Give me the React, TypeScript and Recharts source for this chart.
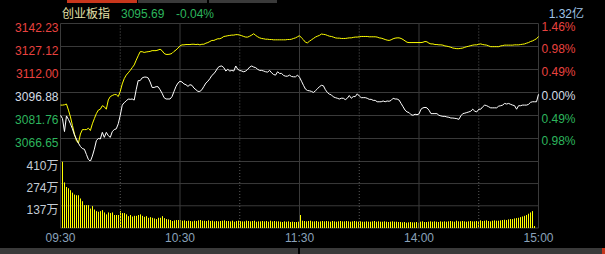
import { LineChart, ComposedChart, Line, Bar, XAxis, YAxis, CartesianGrid, ReferenceLine } from "recharts";

// 昨收
const PRE_CLOSE = 3096.88;

const priceTicks = [3142.23, 3127.12, 3112.0, 3096.88, 3081.76, 3066.65, 3051.53];
const volTicks = [137, 274, 410];
const timeTicks = [0, 60, 120, 180, 240];
const timeLabels = ["09:30", "10:30", "11:30", "14:00", "15:00"];
const halfHours = [30, 90, 150, 210];

// 指数 (white), one value per minute from 09:30
const indexPrice = [
  3081.9, 3079.7, 3071.2, 3081.5, 3079.2, 3076.3, 3073.0, 3069.0, 3066.3, 3063.6,
  3061.4, 3060.0, 3059.6, 3056.2, 3052.9, 3051.7, 3055.1, 3059.6, 3065.2, 3066.7,
  3066.3, 3070.7, 3067.4, 3070.7, 3068.5, 3067.4, 3071.2, 3072.5, 3073.0, 3076.3,
  3081.9, 3088.6, 3090.2, 3091.3, 3092.6, 3092.4, 3092.6, 3091.9, 3098.7, 3104.7,
  3104.7, 3106.5, 3107.0, 3107.0, 3106.5, 3103.8, 3100.2, 3100.2, 3100.7, 3100.7,
  3098.7, 3096.4, 3093.5, 3092.6, 3092.6, 3092.6, 3094.2, 3097.6, 3100.9, 3103.1,
  3104.3, 3103.8, 3102.5, 3102.0, 3100.9, 3102.0, 3101.6, 3099.8, 3098.7, 3097.6,
  3097.6, 3098.7, 3100.9, 3103.1, 3104.3, 3106.0, 3108.1, 3109.2, 3111.0, 3113.2,
  3114.1, 3114.3, 3113.2, 3111.0, 3112.1, 3111.0, 3111.4, 3111.0, 3114.3, 3112.1,
  3111.4, 3111.0, 3110.5, 3111.0, 3112.1, 3113.6, 3114.3, 3113.6, 3113.2, 3112.1,
  3111.4, 3111.4, 3111.0, 3110.5, 3110.3, 3111.4, 3109.8, 3108.7, 3108.3, 3110.5,
  3109.4, 3109.4, 3108.1, 3107.6, 3107.6, 3108.3, 3107.4, 3107.2, 3107.2, 3108.3,
  3106.9, 3104.3, 3101.6, 3099.1, 3098.2, 3098.0, 3097.6, 3096.9, 3098.0, 3099.3,
  3100.7, 3101.6, 3101.3, 3098.7, 3096.9, 3095.8, 3095.3, 3094.0, 3093.5, 3093.1,
  3092.6, 3093.1, 3093.1, 3092.2, 3093.1, 3094.9, 3093.1, 3094.2, 3094.2, 3096.0,
  3094.6, 3093.5, 3093.5, 3093.5, 3093.1, 3092.4, 3092.4, 3091.7, 3091.7, 3090.8,
  3090.8, 3090.8, 3091.3, 3090.8, 3091.3, 3091.1, 3091.7, 3093.1, 3092.6, 3092.6,
  3091.9, 3089.7, 3087.5, 3085.3, 3084.1, 3083.7, 3082.3, 3081.9, 3082.6, 3082.3,
  3082.8, 3085.9, 3086.8, 3087.1, 3086.8, 3085.3, 3083.0, 3083.0, 3083.0, 3083.0,
  3081.9, 3081.5, 3081.2, 3081.2, 3080.8, 3080.6, 3080.1, 3080.1, 3079.9, 3079.7,
  3079.2, 3081.5, 3083.0, 3083.3, 3083.7, 3084.1, 3084.6, 3085.9, 3084.6, 3084.1,
  3085.9, 3085.9, 3087.5, 3088.6, 3088.2, 3087.5, 3086.8, 3086.8, 3086.8, 3086.8,
  3087.9, 3088.2, 3088.6, 3089.7, 3089.3, 3089.7, 3089.1, 3088.6, 3088.2, 3085.9,
  3088.2, 3088.2, 3088.6, 3088.6, 3088.6, 3089.1, 3090.4, 3090.8, 3090.8, 3090.8,
  3095.69,
];

// 不含加权 (yellow)
const equalPrice = [
  3088.6, 3088.6, 3088.8, 3089.3, 3085.3, 3080.8, 3075.2, 3069.6, 3065.2, 3063.6,
  3069.6, 3072.5, 3072.5, 3072.5, 3073.4, 3071.9, 3076.3, 3079.7, 3083.0, 3085.3,
  3085.9, 3088.2, 3087.5, 3085.9, 3092.0, 3094.2, 3094.9, 3095.5, 3095.5, 3094.2,
  3097.6, 3102.5, 3106.0, 3108.3, 3109.8, 3111.4, 3113.2, 3115.0, 3118.1, 3121.0,
  3123.7, 3123.7, 3123.2, 3123.5, 3123.7, 3123.9, 3124.4, 3124.4, 3124.4, 3124.8,
  3125.3, 3124.4, 3122.6, 3121.9, 3121.9, 3122.1, 3122.6, 3123.9, 3124.8, 3126.1,
  3127.5, 3128.2, 3128.2, 3128.4, 3128.4, 3128.4, 3128.6, 3128.6, 3128.4, 3128.6,
  3128.2, 3128.6, 3128.6, 3129.3, 3129.7, 3130.4, 3131.1, 3131.1, 3131.7, 3132.2,
  3132.2, 3132.8, 3133.7, 3133.9, 3134.2, 3134.4, 3134.6, 3134.6, 3134.9, 3134.9,
  3134.6, 3134.2, 3133.7, 3133.3, 3133.3, 3133.9, 3134.6, 3135.5, 3134.4, 3133.5,
  3132.8, 3132.4, 3132.2, 3131.9, 3131.9, 3131.7, 3131.7, 3131.5, 3131.5, 3131.5,
  3131.5, 3131.5, 3131.5, 3131.5, 3131.7, 3131.7, 3131.9, 3132.4, 3132.8, 3133.5,
  3134.2, 3132.8, 3131.5, 3129.9, 3129.5, 3130.6, 3131.5, 3132.4, 3133.3, 3133.9,
  3134.4, 3135.3, 3135.1, 3134.9, 3134.4, 3133.9, 3133.7, 3133.3, 3132.8, 3132.6,
  3132.6, 3132.4, 3132.4, 3132.4, 3132.6, 3132.8, 3132.8, 3133.1, 3133.3, 3133.3,
  3133.5, 3133.7, 3133.7, 3133.7, 3133.7, 3133.5, 3133.5, 3133.5, 3133.5, 3133.3,
  3132.8, 3132.6, 3132.2, 3131.7, 3131.3, 3131.1, 3131.5, 3132.2, 3132.6, 3132.8,
  3132.8, 3132.4, 3131.7, 3130.8, 3129.9, 3129.7, 3129.7, 3129.7, 3129.7, 3129.7,
  3129.7, 3129.7, 3129.9, 3130.4, 3130.2, 3129.3, 3128.8, 3128.8, 3128.4, 3128.4,
  3128.2, 3128.2, 3128.0, 3127.5, 3127.3, 3127.0, 3126.6, 3126.1, 3125.9, 3125.7,
  3125.7, 3125.9, 3126.1, 3126.6, 3127.0, 3127.3, 3127.7, 3128.0, 3128.2, 3128.2,
  3128.6, 3128.8, 3128.4, 3128.2, 3128.0, 3127.5, 3127.0, 3127.0, 3127.0, 3127.0,
  3127.0, 3127.5, 3127.7, 3128.0, 3128.0, 3128.0, 3128.0, 3128.0, 3128.2, 3128.2,
  3128.2, 3128.4, 3128.6, 3128.8, 3129.3, 3129.7, 3130.4, 3130.8, 3131.5, 3132.2,
  3133.7,
];

// 成交量 (万)
const volume = [
  130, 410, 281, 253, 245, 233, 218, 206, 202, 202,
  182, 165, 141, 141, 141, 120, 135, 114, 104, 100,
  104, 110, 96, 84, 96, 92, 96, 80, 80, 80,
  104, 92, 92, 84, 73, 80, 71, 75, 75, 80,
  84, 75, 69, 73, 63, 67, 63, 59, 55, 63,
  63, 73, 61, 55, 53, 49, 43, 47, 49, 49,
  49, 47, 45, 47, 43, 45, 43, 41, 45, 43,
  47, 49, 45, 45, 43, 47, 43, 45, 41, 43,
  41, 43, 45, 47, 43, 43, 41, 45, 39, 43,
  45, 43, 41, 41, 45, 43, 41, 43, 45, 39,
  41, 41, 43, 41, 43, 39, 45, 41, 43, 41,
  41, 39, 37, 41, 39, 41, 37, 39, 37, 37,
  39, 80, 45, 43, 41, 43, 45, 41, 41, 43,
  39, 41, 43, 41, 43, 41, 39, 43, 41, 39,
  41, 43, 41, 41, 43, 41, 39, 41, 43, 41,
  39, 41, 39, 39, 41, 39, 39, 41, 43, 39,
  41, 39, 39, 41, 39, 37, 39, 41, 39, 39,
  37, 37, 35, 37, 33, 35, 37, 35, 35, 37,
  33, 39, 41, 37, 37, 39, 41, 39, 41, 39,
  37, 41, 39, 41, 39, 41, 43, 41, 39, 45,
  41, 41, 43, 41, 39, 41, 43, 41, 41, 43,
  41, 47, 43, 45, 47, 43, 41, 45, 47, 45,
  45, 47, 49, 51, 49, 53, 55, 55, 59, 61,
  63, 67, 71, 75, 80, 88, 96, 104, 12, 0,
  182,
];

const rows = volume.map((v, i) => ({ t: i, index: indexPrice[i], equal: equalPrice[i], vol: v }));

const FONT = "'Liberation Sans', 'Noto Sans CJK SC', sans-serif";
const RED = "#e8423f";
const GREEN = "#2db55d";
const FLAT = "#d4dce4";
const GRID = "#3a3a3a";

const colorOf = (v: number) => (Math.abs(v - PRE_CLOSE) < 0.005 ? FLAT : v > PRE_CLOSE ? RED : GREEN);

const PriceTick = (props: any) => {
  const { x, y, payload } = props;
  const v = payload.value as number;
  if (v < 3060) return <g />; // 最底一格留给成交量标签
  return (
    <text x={x} y={y + 8.5} textAnchor="end" fill={colorOf(v)} fontSize={12} fontFamily={FONT}>
      {v.toFixed(2)}
    </text>
  );
};

const PctTick = (props: any) => {
  const { x, y, payload } = props;
  const v = payload.value as number;
  if (v < 3060) return <g />;
  const pct = Math.abs(((v - PRE_CLOSE) / PRE_CLOSE) * 100).toFixed(2) + "%";
  return (
    <text x={x} y={y + 7} textAnchor="start" fill={colorOf(v)} fontSize={12} fontFamily={FONT}>
      {pct}
    </text>
  );
};

const VolTick = (props: any) => {
  const { x, y, payload } = props;
  return (
    <text x={x} y={y + 8.5} textAnchor="end" fill="#c4ccd4" fontSize={12} fontFamily={FONT}>
      {payload.value + "万"}
    </text>
  );
};

const TimeTick = (props: any) => {
  const { x, y, payload } = props;
  const i = timeTicks.indexOf(payload.value);
  return (
    <text x={x} y={y + 13.5} textAnchor="middle" fill="#8aa2ba" fontSize={12} fontFamily={FONT}>
      {timeLabels[i]}
    </text>
  );
};

// snap each 1px bar onto an even pixel column so it stays crisp
const VolBar = (props: any) => {
  const { x, y, height } = props;
  if (!height) return <g />;
  return <rect x={2 * Math.round(x / 2)} y={y} width={1} height={height} fill="#ffff00" />;
};

const verticals = () => [
  ...timeTicks.map((t) => <ReferenceLine key={"s" + t} x={t} stroke={GRID} strokeWidth={1} />),
  ...halfHours.map((t) => (
    <ReferenceLine key={"d" + t} x={t} stroke="#5a5a5a" strokeWidth={1} strokeDasharray="1 2" />
  )),
];

export default function App() {
  return (
    <div style={{ position: "absolute", left: 0, top: 0, width: 605, height: 254, background: "#000", overflow: "hidden" }}>
      <svg width={605} height={254} style={{ position: "absolute", left: 0, top: 0 }}>
        <rect x={67} y={0} width={70} height={3} fill="#c8361c" />
        <rect x={138} y={0} width={69} height={3} fill="#3a3a3a" />
        <rect x={209} y={0} width={68} height={3} fill="#3a3a3a" />
        <rect x={0} y={248} width={298} height={6} fill="#3a3a3a" />
        <rect x={300} y={248} width={302} height={6} fill="#3a3a3a" />
        <rect x={602} y={248} width={3} height={6} fill="#c8361c" />
        <text x={62} y={18} fill="#e4e0a8" fontSize={12} fontFamily={FONT}>创业板指</text>
        <text x={121} y={18} fill={GREEN} fontSize={12} fontFamily={FONT}>3095.69</text>
        <text x={176} y={18} fill={GREEN} fontSize={12} fontFamily={FONT}>-0.04%</text>
        <text x={584} y={18} textAnchor="end" fill="#9fc3e6" fontSize={12} fontFamily={FONT}>1.32亿</text>
      </svg>

      <div style={{ position: "absolute", left: 0, top: 0 }}>
        <LineChart width={605} height={254} data={rows} margin={{ top: 23.5, right: 0, bottom: 92.5, left: 0.5 }}>
          <CartesianGrid vertical={false} stroke={GRID} />
          <XAxis type="number" dataKey="t" domain={[0, 240]} hide />
          <YAxis
            domain={[3051.53, 3142.23]}
            ticks={priceTicks}
            width={60}
            tickSize={0}
            tickMargin={2}
            axisLine={false}
            tickLine={false}
            interval={0}
            allowDataOverflow
            tick={<PriceTick />}
          />
          <YAxis
            yAxisId="pct"
            orientation="right"
            domain={[3051.53, 3142.23]}
            ticks={priceTicks}
            width={66.5}
            tickSize={0}
            tickMargin={3}
            axisLine={false}
            tickLine={false}
            interval={0}
            allowDataOverflow
            tick={<PctTick />}
          />
          {verticals()}
          <Line type="linear" dataKey="equal" yAxisId="pct" stroke="#ffff00" strokeWidth={1} dot={false} isAnimationActive={false} />
          <Line type="linear" dataKey="index" stroke="#ffffff" strokeWidth={1} dot={false} isAnimationActive={false} />
        </LineChart>
      </div>

      <div style={{ position: "absolute", left: 0, top: 0 }}>
        <ComposedChart width={605} height={254} data={rows} margin={{ top: 161.5, right: 66.5, bottom: 0, left: 0.5 }}>
          <CartesianGrid vertical={false} stroke={GRID} />
          <XAxis
            type="number"
            dataKey="t"
            domain={[0, 240]}
            ticks={timeTicks}
            interval={0}
            height={26}
            tickSize={0}
            tickMargin={0}
            axisLine={false}
            tickLine={false}
            tick={<TimeTick />}
          />
          <YAxis
            domain={[0, 410]}
            ticks={volTicks}
            width={60}
            tickSize={0}
            tickMargin={2}
            axisLine={false}
            tickLine={false}
            interval={0}
            allowDataOverflow
            tick={<VolTick />}
          />
          {verticals()}
          <Bar dataKey="vol" barSize={1} fill="#ffff00" shape={<VolBar />} isAnimationActive={false} />
        </ComposedChart>
      </div>
    </div>
  );
}
